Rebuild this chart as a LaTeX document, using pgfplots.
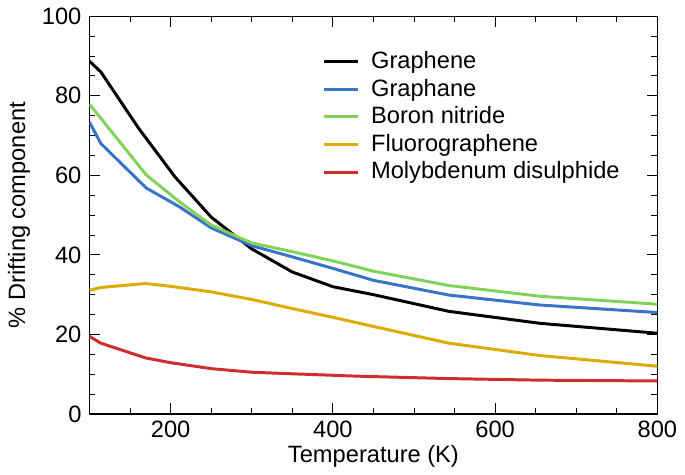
\documentclass[border=0pt]{standalone}
\usepackage{pgfplots}
\pgfplotsset{compat=1.18}
\usepackage{fontspec}
\setmainfont{Liberation Sans}
\definecolor{cBlue}{RGB}{55,115,200}
\definecolor{cGreen}{RGB}{130,210,90}
\definecolor{cGold}{RGB}{220,170,0}
\definecolor{cRed}{RGB}{205,45,45}
\begin{document}
\fontsize{24}{28}\selectfont
\begin{tikzpicture}
\begin{axis}[
  scale only axis,
  width=574bp, height=402bp,
  xmin=100, xmax=800, ymin=0, ymax=100,
  xtick={200,400,600,800},
  minor xtick={150,250,300,350,450,500,550,650,700,750},
  ytick={0,20,40,60,80,100},
  minor ytick={5,10,15,25,30,35,45,50,55,65,70,75,85,90,95},
  tick pos=both, tick align=inside,
  major tick length=11bp, minor tick length=6bp,
  every tick/.style={black, line width=1bp},
  axis line style={line width=1.3bp},
  /pgf/number format/assume math mode=true,
  ticklabel style={font=\fontsize{24}{28}\selectfont},
  xticklabel style={yshift=1bp},
  label style={font=\fontsize{24}{28}\selectfont},
  xlabel={Temperature (K)},
  ylabel={\% Drifting component},
  xlabel style={yshift=9bp},
  ylabel style={yshift=-4bp},
  legend style={draw=none, fill=none, at={(0.405,0.922)}, anchor=north west,
    font=\fontsize{24}{28}\selectfont, row sep=3bp},
  legend cell align=left,
  legend image code/.code={\draw[#1] (0bp,0bp) -- (34bp,0bp); \path (44bp,0bp);},
  every axis plot/.append style={line width=3bp, line join=round},
]
\addplot[black] coordinates {(100,88.7) (114,86.0) (160,72) (205,59.7) (250,49.5) (300,41.5) (350,35.7) (400,32.0) (450,30.0) (543,25.8) (655,22.8) (800,20.3)};
\addlegendentry{Graphene}
\addplot[cBlue] coordinates {(100,73.4) (114,68.0) (170,56.8) (210,52.2) (250,46.8) (300,42.3) (350,39.5) (400,36.6) (450,33.6) (543,29.9) (655,27.4) (800,25.5)};
\addlegendentry{Graphane}
\addplot[cGreen] coordinates {(100,77.9) (170,60.1) (210,53.5) (250,47.5) (300,43.0) (350,40.8) (400,38.5) (450,35.9) (543,32.3) (655,29.6) (800,27.6)};
\addlegendentry{Boron nitride}
\addplot[cGold] coordinates {(100,31.1) (114,31.8) (169,32.8) (200,32.1) (250,30.7) (300,28.8) (350,26.5) (400,24.3) (450,22.0) (543,17.8) (655,14.7) (800,12.0)};
\addlegendentry{Fluorographene}
\addplot[cRed] coordinates {(100,19.5) (114,17.8) (169,14.1) (200,12.9) (250,11.4) (300,10.5) (350,10.1) (431,9.5) (543,8.9) (655,8.5) (800,8.3)};
\addlegendentry{Molybdenum disulphide}
\end{axis}
\end{tikzpicture}
\end{document}
